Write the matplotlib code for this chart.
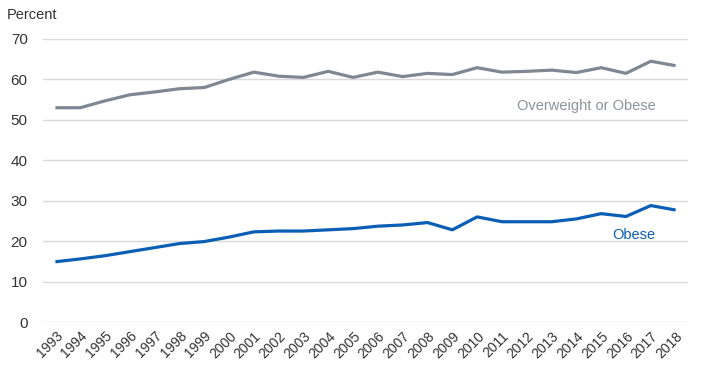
import matplotlib

matplotlib.use("Agg")
import matplotlib.pyplot as plt
import matplotlib.transforms as mtransforms

plt.rcParams["font.family"] = ["Liberation Sans", "DejaVu Sans"]

# Share of adults, by year
YEARS = list(range(1993, 2019))
OVERWEIGHT_OR_OBESE = [
    53.0, 53.0, 54.7, 56.2, 56.9, 57.7, 58.0, 60.0, 61.8, 60.8, 60.5, 62.0, 60.5,
    61.8, 60.7, 61.5, 61.2, 62.9, 61.8, 62.0, 62.3, 61.7, 62.9, 61.5, 64.5, 63.4,
]
OBESE = [
    14.9, 15.6, 16.4, 17.4, 18.4, 19.4, 19.9, 21.0, 22.3, 22.5, 22.5, 22.8, 23.1,
    23.7, 24.0, 24.6, 22.8, 26.0, 24.8, 24.8, 24.8, 25.5, 26.8, 26.1, 28.8, 27.7,
]
Y_TICKS = [0, 10, 20, 30, 40, 50, 60, 70]

GRAY = "#7d8893"
BLUE = "#0a5fb4"

fig = plt.figure(figsize=(7.09, 3.84), dpi=100)
ax = fig.add_axes([43 / 709, (384 - 322) / 384, (688 - 43) / 709, (322 - 39) / 384])

x = list(range(len(YEARS)))
ax.plot(x, OVERWEIGHT_OR_OBESE, color=GRAY, lw=2.3, solid_capstyle="butt")
ax.plot(x, OBESE, color=BLUE, lw=2.3, solid_capstyle="butt")

ax.set_xlim(-0.5, len(YEARS) - 0.5)
ax.set_ylim(0, 70)
ax.set_yticks(Y_TICKS)
ax.set_yticklabels([str(v) for v in Y_TICKS])
ax.set_xticks(x)
ax.set_xticklabels([str(y) for y in YEARS], rotation=45, ha="right",
                   rotation_mode="anchor")
# nudge the slanted year labels a little to the right
shift = mtransforms.ScaledTranslation(3 / 100, 0, fig.dpi_scale_trans)
for lab in ax.get_xticklabels():
    lab.set_transform(lab.get_transform() + shift)

ax.grid(axis="y", color="#d9d9d9", lw=1)
ax.set_axisbelow(True)
for s in ax.spines.values():
    s.set_visible(False)
ax.tick_params(axis="x", length=0, labelsize=10, colors="#333333", pad=5)
ax.tick_params(axis="y", length=0, labelsize=11, colors="#333333", pad=11)

fig.text(7 / 709, 1 - 15 / 384, "Percent", fontsize=10.5, color="#333333",
         va="center", ha="left")
ax.text(24.2, 53.5, "Overweight or Obese", color="#8a939c", fontsize=10.5,
        ha="right", va="center")
ax.text(24.2, 21.5, "Obese", color=BLUE, fontsize=10.5, ha="right", va="center")

fig.savefig("out.png", dpi=100)
